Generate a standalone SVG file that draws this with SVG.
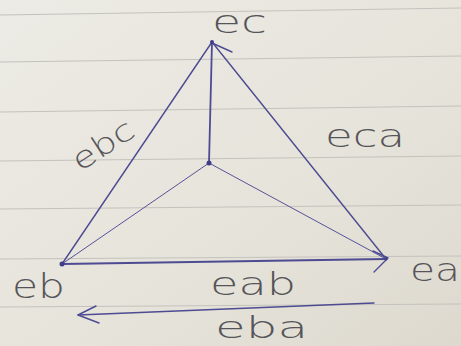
<svg xmlns="http://www.w3.org/2000/svg" width="461" height="346" viewBox="0 0 461 346">
<defs>
<linearGradient id="paper" x1="0" y1="0" x2="1" y2="1">
<stop offset="0" stop-color="#ecebe5"/>
<stop offset="0.6" stop-color="#e6e3da"/>
<stop offset="1" stop-color="#ddd9cf"/>
</linearGradient>
</defs>
<style>
.rule{stroke:#c4c2bd;stroke-width:1.2;fill:none}
.pen{stroke:#4d4b92;stroke-width:1.4;fill:none;stroke-linecap:round;stroke-linejoin:round}
.thin{stroke:#55539a;stroke-width:1;fill:none;stroke-linecap:round}
.lbl{font-family:"DejaVu Sans","Liberation Sans",sans-serif;fill:#555458;font-weight:300}
</style>
<rect width="461" height="346" fill="url(#paper)"/>
<g id="paper-lines">
<line class="rule" x1="0" y1="15" x2="461" y2="8"/>
<line class="rule" x1="0" y1="62" x2="461" y2="56"/>
<line class="rule" x1="0" y1="112" x2="461" y2="106"/>
<line class="rule" x1="0" y1="161" x2="461" y2="156"/>
<line class="rule" x1="0" y1="209" x2="461" y2="205"/>
<line class="rule" x1="0" y1="259" x2="461" y2="256"/>
<line class="rule" x1="0" y1="307" x2="461" y2="304"/>
</g>
<g id="connectors">
<path class="pen" d="M212 42 L62 264"/>
<path class="pen" d="M212 42 L386 259"/>
<path class="pen" d="M62 264 L386 259" style="stroke-width:1.8"/>
<path class="pen" d="M212 42 L209 163" style="stroke-width:1.8"/>
<path class="thin" d="M209 163 L62 264"/>
<path class="thin" d="M209 163 L386 259"/>
<path class="pen" d="M212 43 L232 52"/>
<path class="pen" d="M373 251 L388 258 L374 272"/>
<path class="pen" d="M374 303 L78 315"/>
<path class="pen" d="M96 306 L78 315 L99 323"/>
</g>
<g id="node-ec"><circle cx="212" cy="42" r="2" fill="#3f3d88"/><text class="lbl" x="212" y="33" font-size="32" textLength="55" lengthAdjust="spacingAndGlyphs">ec</text></g>
<g id="node-center"><circle cx="209" cy="163" r="2.5" fill="#3f3d88"/></g>
<g id="node-eb"><circle cx="62" cy="264" r="2.5" fill="#3f3d88"/><text class="lbl" x="12" y="298" font-size="34" textLength="53" lengthAdjust="spacingAndGlyphs">eb</text></g>
<g id="node-ea"><circle cx="386" cy="259" r="1.5" fill="#3f3d88"/><text class="lbl" x="410" y="281" font-size="32" textLength="50" lengthAdjust="spacingAndGlyphs">ea</text></g>
<g id="edge-labels">
<text class="lbl" x="0" y="0" font-size="30" textLength="68" lengthAdjust="spacingAndGlyphs" transform="translate(80 172) rotate(-33)">ebc</text>
<text class="lbl" x="325" y="147" font-size="32" textLength="80" lengthAdjust="spacingAndGlyphs">eca</text>
<text class="lbl" x="210" y="295" font-size="32" textLength="86" lengthAdjust="spacingAndGlyphs">eab</text>
<text class="lbl" x="215" y="338" font-size="30" textLength="93" lengthAdjust="spacingAndGlyphs">eba</text>
</g>
</svg>
